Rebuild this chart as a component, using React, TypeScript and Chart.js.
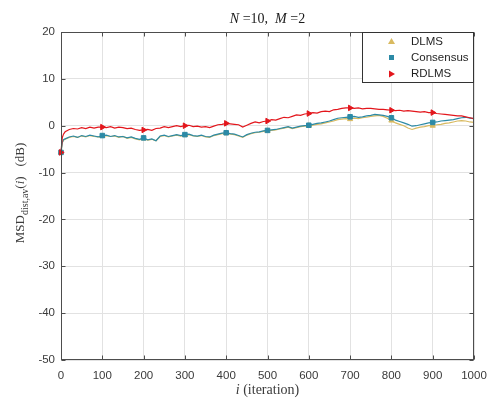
import React, { useEffect, useRef } from "react";
import { Chart, registerables } from "chart.js";

Chart.register(...registerables);

// iteration index of every sample
const iterations = [
  0, 3, 6,
  10, 20, 30, 40, 50, 60, 70, 80, 90,
  100, 110, 120, 130, 140, 150, 160, 170, 180, 190,
  200, 210, 220, 230, 240, 250, 260, 270, 280, 290,
  300, 310, 320, 330, 340, 350, 360, 370, 380, 390,
  400, 410, 420, 430, 440, 450, 460, 470, 480, 490,
  500, 510, 520, 530, 540, 550, 560, 570, 580, 590,
  600, 610, 620, 630, 640, 650, 660, 670, 680, 690,
  700, 710, 720, 730, 740, 750, 760, 770, 780, 790,
  800, 810, 820, 830, 840, 850, 860, 870, 880, 890,
  900, 910, 920, 930, 940, 950, 960, 970, 980, 990,
  1000,
];

const dlms = [
  -5.7, -3.7, -3.1,
  -2.9, -2.5, -2.3, -2.5, -2.2, -2.4, -2.1, -2.3, -2.4,
  -2.2, -2.1, -2.3, -2.2, -2.5, -2.3, -2.7, -2.5, -2.8, -3.0,
  -2.7, -3.1, -2.9, -3.2, -2.3, -2.1, -2.4, -2.2, -2.0, -2.2,
  -2.0, -1.9, -2.2, -2.3, -2.1, -2.4, -2.5, -2.1, -1.9, -1.7,
  -1.6, -1.8, -1.9, -2.2, -2.5, -2.0, -1.7, -1.5, -1.4, -1.2,
  -1.1, -1.0, -0.9, -0.7, -0.5, -0.3, -0.6, -0.4, -0.2, -0.1,
  0.0, 0.1, 0.3, 0.4, 0.6, 0.8, 1.0, 1.3, 1.4, 1.5,
  1.4, 1.6, 1.5, 1.7, 1.8, 2.0, 2.1, 2.2, 2.0, 1.6,
  1.1, 0.6, 0.3, 0.0, -0.5, -0.8, -0.5, -0.3, -0.2, 0.0,
  0.0, 0.2, 0.3, 0.5, 0.6, 0.8, 1.0, 1.1, 1.0, 0.8,
  0.7,
];

const consensus = [
  -5.7, -3.6, -3.0,
  -2.8, -2.4, -2.2, -2.5, -2.1, -2.3, -2.0, -2.2, -2.4,
  -2.1, -2.0, -2.3, -2.1, -2.4, -2.3, -2.6, -2.4, -2.7, -2.9,
  -2.6, -3.0, -2.8, -3.2, -2.2, -2.0, -2.3, -2.1, -1.9, -2.1,
  -1.9, -1.8, -2.1, -2.2, -2.0, -2.3, -2.4, -2.0, -1.8, -1.6,
  -1.5, -1.7, -1.8, -2.1, -2.4, -1.9, -1.6, -1.4, -1.3, -1.1,
  -1.0, -0.9, -0.8, -0.6, -0.4, -0.2, -0.5, -0.3, -0.1, 0.0,
  0.1, 0.3, 0.5, 0.6, 0.8, 1.0, 1.3, 1.6, 1.7, 1.8,
  1.9, 2.0, 1.8, 1.9, 2.1, 2.2, 2.4, 2.3, 2.2, 2.0,
  1.7, 1.2, 0.9, 0.6, 0.3, -0.1, 0.0, 0.2, 0.4, 0.6,
  0.7, 0.8, 1.0, 1.1, 1.2, 1.3, 1.5, 1.7, 1.8, 1.6,
  1.5,
];

const rdlms = [
  -5.7, -2.6, -1.8,
  -1.3, -0.8, -0.6, -0.7, -0.4, -0.6, -0.3, -0.5, -0.3,
  -0.3, -0.4, -0.2, -0.5, -0.3, -0.4, -0.6, -0.5, -0.8, -1.0,
  -0.9, -0.8, -1.0, -0.6, -0.5, -0.2, -0.4, -0.2, 0.0, -0.2,
  0.0, 0.1, -0.2, -0.1, -0.3, -0.2, -0.4, -0.1, 0.2, 0.3,
  0.5, 0.4, 0.3, 0.2, -0.3, 0.1, 0.5, 0.8, 0.6, 0.9,
  1.0, 1.3, 1.2, 1.5, 1.8, 1.7, 2.0, 2.3, 2.2, 2.5,
  2.6, 2.8, 2.7, 3.0, 3.1, 3.0, 3.4, 3.5, 3.7, 3.8,
  3.8, 3.7, 3.8, 3.6, 3.7, 3.7, 3.6, 3.5, 3.5, 3.4,
  3.3, 3.2, 3.3, 3.1, 3.2, 3.1, 3.0, 2.9, 3.0, 2.8,
  2.8, 2.6, 2.5, 2.4, 2.3, 2.2, 2.1, 2.1, 1.9, 1.7,
  1.5,
];

const seriesNames = ["DLMS", "Consensus", "RDLMS"];
const seriesColors = ["#d9ba60", "#2c8aa6", "#e3161c"];
const xTicks = [0, 100, 200, 300, 400, 500, 600, 700, 800, 900, 1000];
const yTicks = [-50, -40, -30, -20, -10, 0, 10, 20];
const markerEvery = 100;

const SANS = "'Liberation Sans', Arial, sans-serif";
const SERIF = "'Liberation Serif', 'Times New Roman', serif";
const AXIS_COLOR = "#4d4d4d";
const TEXT_COLOR = "#3a3a3a";

type Seg = { text: string; font: string; dy?: number };

function drawSegs(ctx: CanvasRenderingContext2D, segs: Seg[], cx: number, cy: number) {
  let total = 0;
  const widths = segs.map((s) => {
    ctx.font = s.font;
    const w = ctx.measureText(s.text).width;
    total += w;
    return w;
  });
  let x = cx - total / 2;
  ctx.textAlign = "left";
  ctx.textBaseline = "middle";
  segs.forEach((s, i) => {
    ctx.font = s.font;
    ctx.fillText(s.text, x, cy + (s.dy || 0));
    x += widths[i];
  });
}

function drawMarker(ctx: CanvasRenderingContext2D, kind: number, x: number, y: number, color: string) {
  ctx.fillStyle = color;
  ctx.beginPath();
  if (kind === 0) {
    ctx.moveTo(x, y - 3.5);
    ctx.lineTo(x + 3.5, y + 2.5);
    ctx.lineTo(x - 3.5, y + 2.5);
  } else if (kind === 1) {
    ctx.rect(x - 2.5, y - 2.5, 5, 5);
  } else {
    ctx.moveTo(x + 3.5, y);
    ctx.lineTo(x - 2.5, y - 3.5);
    ctx.lineTo(x - 2.5, y + 3.5);
  }
  ctx.closePath();
  ctx.fill();
}

const decorPlugin = {
  id: "decor",
  afterDatasetsDraw(chart: any) {
    const ctx: CanvasRenderingContext2D = chart.ctx;
    const { left, right, top, bottom } = chart.chartArea;
    const xs = chart.scales.x;
    const ys = chart.scales.y;
    const L = Math.round(left) + 0.5;
    const R = Math.round(right) - 0.5;
    const T = Math.round(top) + 0.5;
    const B = Math.round(bottom) - 0.5;
    ctx.save();
    ctx.strokeStyle = AXIS_COLOR;
    ctx.lineWidth = 1;
    ctx.beginPath();
    xTicks.forEach((v) => {
      const px = Math.round(xs.getPixelForValue(v)) + 0.5;
      ctx.moveTo(px, B);
      ctx.lineTo(px, B - 4);
      ctx.moveTo(px, T);
      ctx.lineTo(px, T + 4);
    });
    yTicks.forEach((v) => {
      const py = Math.round(ys.getPixelForValue(v)) + 0.5;
      ctx.moveTo(L, py);
      ctx.lineTo(L + 4, py);
      ctx.moveTo(R, py);
      ctx.lineTo(R - 4, py);
    });
    ctx.stroke();
    ctx.strokeRect(L, T, R - L, B - T);
    ctx.restore();
  },
  afterDraw(chart: any) {
    const ctx: CanvasRenderingContext2D = chart.ctx;
    const { left, right, top, bottom } = chart.chartArea;
    const cx = (left + right) / 2;
    ctx.save();
    ctx.fillStyle = "#1a1a1a";
    // title
    drawSegs(
      ctx,
      [
        { text: "N", font: `italic 14px ${SERIF}` },
        { text: " =10,  ", font: `14px ${SERIF}` },
        { text: "M", font: `italic 14px ${SERIF}` },
        { text: " =2", font: `14px ${SERIF}` },
      ],
      cx,
      19
    );
    // x label
    ctx.fillStyle = TEXT_COLOR;
    drawSegs(
      ctx,
      [
        { text: "i", font: `italic 14px ${SERIF}` },
        { text: " (iteration)", font: `14px ${SERIF}` },
      ],
      cx,
      390
    );
    // y label
    ctx.save();
    ctx.translate(21, (top + bottom) / 2 - 3);
    ctx.rotate(-Math.PI / 2);
    drawSegs(
      ctx,
      [
        { text: "MSD", font: `13px ${SERIF}` },
        { text: "dist,av", font: `10px ${SERIF}`, dy: 4 },
        { text: "(", font: `13px ${SERIF}` },
        { text: "i", font: `italic 13px ${SERIF}` },
        { text: ")   (dB)", font: `13px ${SERIF}` },
      ],
      0,
      0
    );
    ctx.restore();

    // legend box
    const bx0 = 362.5;
    const by0 = Math.round(top) + 0.5;
    const bx1 = Math.round(right) - 0.5;
    const by1 = 82.5;
    ctx.fillStyle = "#ffffff";
    ctx.fillRect(bx0, by0, bx1 - bx0, by1 - by0);
    ctx.strokeStyle = "#333333";
    ctx.lineWidth = 1;
    ctx.strokeRect(bx0, by0, bx1 - bx0, by1 - by0);
    const rows = [41.5, 57.5, 74];
    seriesNames.forEach((name, i) => {
      drawMarker(ctx, i, 391.5, rows[i], seriesColors[i]);
      ctx.fillStyle = "#1f1f1f";
      ctx.font = `11.5px ${SANS}`;
      ctx.textAlign = "left";
      ctx.textBaseline = "middle";
      ctx.fillText(name, 411, rows[i]);
    });
    ctx.restore();
  },
};

function makeDataset(idx: number, values: number[], style: string, rotation: number, radius: number, order: number) {
  const color = seriesColors[idx];
  return {
    label: seriesNames[idx],
    data: iterations.map((x, i) => ({ x, y: values[i] })),
    borderColor: color,
    backgroundColor: color,
    borderWidth: 1.2,
    tension: 0,
    clip: false,
    pointStyle: style,
    pointRotation: rotation,
    pointBackgroundColor: color,
    pointBorderColor: color,
    pointBorderWidth: 1,
    pointRadius: (c: any) => {
      const it = iterations[c.dataIndex];
      return it % markerEvery === 0 && it < 1000 ? radius : 0;
    },
    order,
  };
}

export default function App() {
  const ref = useRef<HTMLCanvasElement>(null);
  useEffect(() => {
    if (!ref.current) return;
    const chart = new Chart(ref.current, {
      type: "line",
      data: {
        datasets: [
          makeDataset(0, dlms, "triangle", 0, 3, 3),
          makeDataset(1, consensus, "rect", 0, 3.2, 2),
          makeDataset(2, rdlms, "triangle", 90, 3.2, 1),
        ] as any,
      },
      options: {
        responsive: false,
        animation: false,
        devicePixelRatio: 1,
        layout: { padding: { left: 0, right: 14, top: 32, bottom: 0 } },
        plugins: {
          legend: { display: false },
          title: { display: false },
          tooltip: { enabled: false },
        },
        scales: {
          x: {
            type: "linear",
            min: 0,
            max: 1000,
            afterFit: (s: any) => {
              s.height = 41;
              s.paddingLeft = 0;
              s.paddingRight = 0;
            },
            afterBuildTicks: (s: any) => {
              s.ticks = xTicks.map((v) => ({ value: v }));
            },
            ticks: {
              autoSkip: false,
              maxRotation: 0,
              padding: 9,
              color: TEXT_COLOR,
              font: { family: SANS, size: 11.5 },
              callback: (v: any) => String(v),
            },
            grid: { color: "#e2e2e2", lineWidth: 1, drawTicks: false },
            border: { display: false },
          },
          y: {
            type: "linear",
            min: -50,
            max: 20,
            afterFit: (s: any) => {
              s.width = 61;
              s.paddingTop = 0;
              s.paddingBottom = 0;
            },
            afterBuildTicks: (s: any) => {
              s.ticks = yTicks.map((v) => ({ value: v }));
            },
            ticks: {
              autoSkip: false,
              padding: 6,
              color: TEXT_COLOR,
              font: { family: SANS, size: 11.5 },
              callback: (v: any) => String(v),
            },
            grid: { color: "#e2e2e2", lineWidth: 1, drawTicks: false },
            border: { display: false },
          },
        },
      },
      plugins: [decorPlugin],
    });
    return () => chart.destroy();
  }, []);
  return (
    <div style={{ position: "absolute", left: 0, top: 0, width: 488, height: 401, background: "#fff" }}>
      <canvas ref={ref} width={488} height={401} style={{ display: "block" }} />
    </div>
  );
}
